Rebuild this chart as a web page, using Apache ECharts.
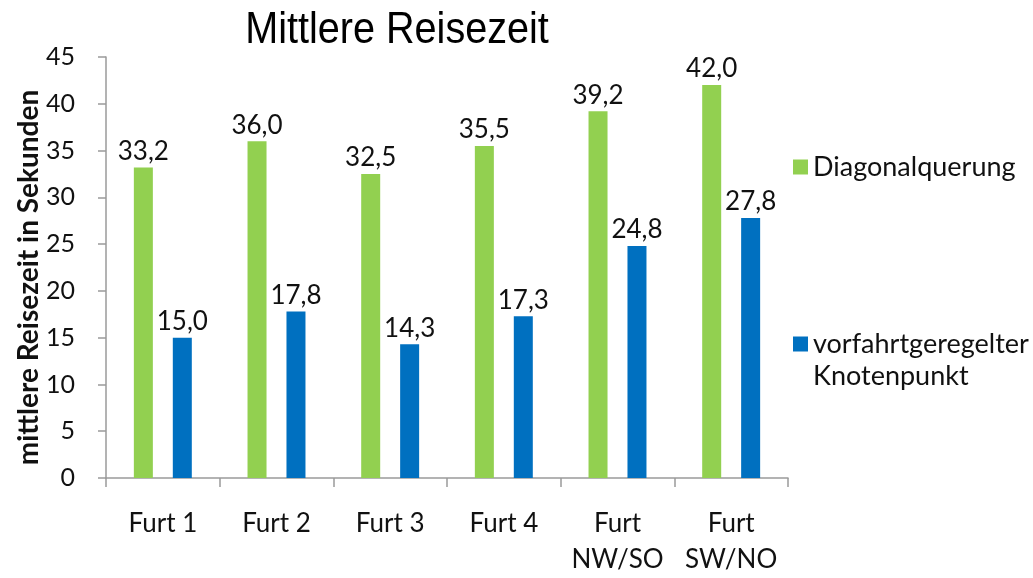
<!DOCTYPE html>
<html>
<head>
<meta charset="utf-8">
<script src="https://cdn.jsdelivr.net/npm/echarts@6/dist/echarts.min.js"></script>
<style>
  html, body { margin: 0; padding: 0; background: #fff; }
  #chart { width: 1033px; height: 578px; }
</style>
</head>
<body>
<div id="chart"></div>
<script>
const categories = ["Furt 1", "Furt 2", "Furt 3", "Furt 4", "Furt\nNW/SO", "Furt\nSW/NO"];
const diagonal = [33.2, 36.0, 32.5, 35.5, 39.2, 42.0];
const knoten = [15.0, 17.8, 14.3, 17.3, 24.8, 27.8];
const yTicks = { min: 0, max: 45, interval: 5 };

const font = "Lato, 'Open Sans', sans-serif";
const fmt = (p) => p.value.toFixed(1).replace(".", ",");

const myChart = echarts.init(document.getElementById("chart"));
myChart.setOption({
  animation: false,
  legend: [
    {
      data: ["Diagonalquerung"],
      left: 788,
      top: 147,
      itemWidth: 15,
      itemHeight: 15,
      itemGap: 6,
      icon: "rect",
      textStyle: { fontFamily: font, fontSize: 27, lineHeight: 30, color: "#111" },
    },
    {
      data: ["vorfahrtgeregelter Knotenpunkt"],
      left: 788,
      top: 324,
      itemWidth: 15,
      itemHeight: 15,
      icon: "rect",
      formatter: () => "vorfahrtgeregelter",
      textStyle: { fontFamily: font, fontSize: 27, lineHeight: 30, color: "#111" },
    },
  ],
  graphic: [
    {
      // Titel, schmal gestaucht wie im Original
      type: "text",
      x: 397,
      y: 31,
      scaleX: 0.88,
      style: {
        text: "Mittlere Reisezeit",
        font: "45px 'Liberation Sans', Arial, sans-serif",
        fill: "#000",
        textAlign: "center",
        textVerticalAlign: "middle",
      },
    },
    {
      type: "text",
      left: 813,
      top: 363,
      style: { text: "Knotenpunkt", font: "27px " + font, fill: "#111" },
    },
  ],
  grid: { left: 106, right: 245, top: 57, bottom: 97 },
  xAxis: {
    type: "category",
    data: categories,
    axisLine: { lineStyle: { color: "#9a9a9a", width: 1.5 } },
    axisTick: { show: true, length: 9, lineStyle: { color: "#9a9a9a", width: 1.5 } },
    axisLabel: {
      interval: 0,
      margin: 28,
      fontFamily: font,
      fontSize: 26,
      lineHeight: 36,
      color: "#111",
    },
  },
  yAxis: {
    type: "value",
    min: yTicks.min,
    max: yTicks.max,
    interval: yTicks.interval,
    name: "mittlere Reisezeit in Sekunden",
    nameLocation: "middle",
    nameGap: 63,
    nameMoveOverlap: false,
    nameTextStyle: {
      fontFamily: font,
      fontSize: 28,
      fontWeight: "bold",
      color: "#111",
      padding: [0, 20, 0, 0],
    },
    axisLine: { show: true, lineStyle: { color: "#9a9a9a", width: 1.5 } },
    axisTick: { show: true, length: 8, lineStyle: { color: "#9a9a9a", width: 1.5 } },
    splitLine: { show: false },
    axisLabel: { margin: 31, fontFamily: font, fontSize: 25, color: "#111" },
  },
  series: [
    {
      name: "Diagonalquerung",
      type: "bar",
      data: diagonal,
      barWidth: 19,
      barGap: "105%",
      itemStyle: { color: "#92D050" },
      label: {
        show: true,
        position: "top",
        distance: 3,
        formatter: fmt,
        fontFamily: font,
        fontSize: 26,
        color: "#111",
      },
    },
    {
      name: "vorfahrtgeregelter Knotenpunkt",
      type: "bar",
      data: knoten,
      barWidth: 19,
      itemStyle: { color: "#0070C0" },
      label: {
        show: true,
        position: "top",
        distance: 3,
        formatter: fmt,
        fontFamily: font,
        fontSize: 26,
        color: "#111",
      },
    },
  ],
});
</script>
</body>
</html>
